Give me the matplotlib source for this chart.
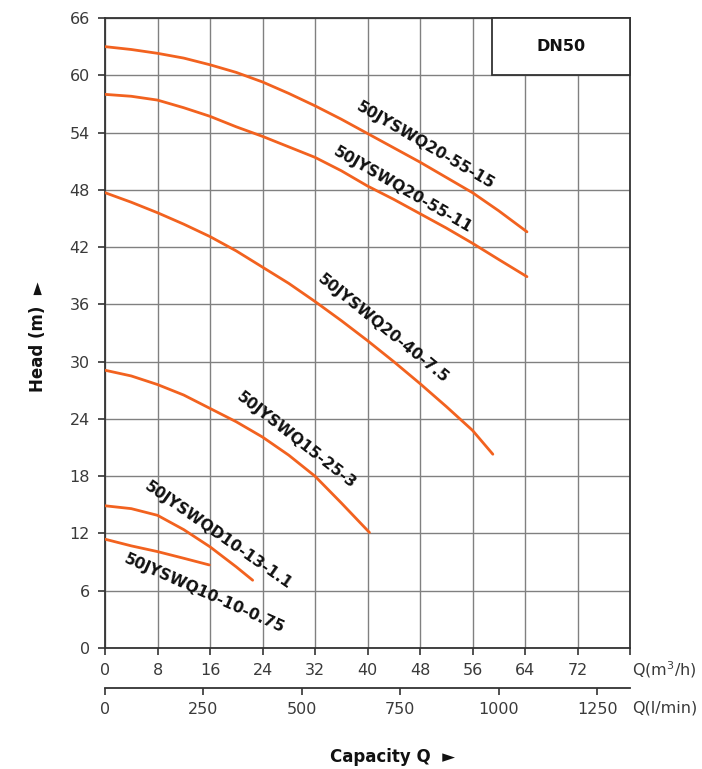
import matplotlib
matplotlib.use("Agg")
import matplotlib.pyplot as plt
from matplotlib.patches import Rectangle

# ---- data (Q in m3/h, H in m) ----
q1 = [0, 4, 8, 12, 16, 20, 24, 28, 32, 36, 40, 44, 48, 52, 56, 60, 64.3]
h1 = [63.0, 62.7, 62.3, 61.8, 61.1, 60.3, 59.3, 58.1, 56.8, 55.4, 53.9, 52.4, 50.9, 49.3, 47.7, 45.8, 43.6]
q2 = [0, 4, 8, 12, 16, 20, 24, 28, 32, 36, 40, 44, 48, 52, 56, 60, 64.3]
h2 = [58.0, 57.8, 57.4, 56.6, 55.7, 54.6, 53.6, 52.5, 51.4, 50.0, 48.4, 47.0, 45.5, 44.0, 42.4, 40.7, 38.9]
q3 = [0, 4, 8, 12, 16, 20, 24, 28, 32, 36, 40, 44, 48, 52, 56, 59.1]
h3 = [47.7, 46.7, 45.6, 44.4, 43.1, 41.6, 39.9, 38.2, 36.3, 34.3, 32.2, 30.0, 27.7, 25.3, 22.8, 20.3]
q4 = [0, 4, 8, 12, 16, 20, 24, 28, 32, 36, 40.3]
h4 = [29.1, 28.5, 27.6, 26.5, 25.1, 23.7, 22.1, 20.2, 18.0, 15.2, 12.1]
q5 = [0, 4, 8, 12, 16, 20, 22.5]
h5 = [14.9, 14.6, 13.9, 12.4, 10.6, 8.5, 7.1]
q6 = [0, 4, 8, 12, 15.9]
h6 = [11.4, 10.7, 10.1, 9.4, 8.7]

curve_q = [q1, q2, q3, q4, q5, q6]
curve_h = [h1, h2, h3, h4, h5, h6]
labels = ["50JYSWQ20-55-15", "50JYSWQ20-55-11", "50JYSWQ20-40-7.5",
          "50JYSWQ15-25-3", "50JYSWQD10-13-1.1", "50JYSWQ10-10-0.75"]
label_pos = [(48.8, 52.6), (45.3, 48.0), (42.4, 33.5), (29.1, 21.8), (17.2, 11.8), (15.2, 5.7)]
label_rot = [-30.5, -30, -39, -38, -35, -24]

x_ticks = [0, 8, 16, 24, 32, 40, 48, 56, 64, 72, 80]
x_ticklabels = ["0", "8", "16", "24", "32", "40", "48", "56", "64", "72", ""]
y_ticks = list(range(0, 67, 6))
lpm_ticks = [0, 250, 500, 750, 1000, 1250]

orange = "#F2621F"
dark = "#333333"
gridc = "#808080"

fig = plt.figure(figsize=(7.02, 7.69), dpi=100)
ax = fig.add_axes([105/702, 1-648/769, 525/702, 630/769])
ax.set_xlim(0, 80)
ax.set_ylim(0, 66)

ax.set_xticks(x_ticks)
ax.set_xticklabels(x_ticklabels)
ax.set_yticks(y_ticks)
ax.grid(True, color=gridc, lw=1.0, zorder=0)
ax.set_axisbelow(True)
for s in ax.spines.values():
    s.set_color(dark)
    s.set_linewidth(1.3)
ax.tick_params(axis='both', colors=dark, labelcolor="#3a3a3a", labelsize=11.5,
               length=5, width=1.2, pad=6)

for q, h in zip(curve_q, curve_h):
    ax.plot(q, h, color=orange, lw=2.0, zorder=3, solid_capstyle='round')

for lab, (x, y), r in zip(labels, label_pos, label_rot):
    ax.text(x, y, lab, rotation=r, ha='center', va='center', fontsize=11.2,
            fontweight='bold', color='#111111', zorder=4, rotation_mode='anchor')

ax.add_patch(Rectangle((59, 60), 21, 6, facecolor='white', edgecolor=dark,
                       lw=1.3, zorder=5, clip_on=False))
ax.text(69.5, 63, "DN50", ha='center', va='center', fontsize=11.5,
        fontweight='bold', color='#111111', zorder=6)

# secondary axis in l/min
sec = ax.secondary_xaxis(-40/630, functions=(lambda v: v * 1000 / 60, lambda v: v * 60 / 1000))
sec.set_xticks(lpm_ticks)
sec.spines['bottom'].set_color(dark)
sec.spines['bottom'].set_linewidth(1.3)
sec.tick_params(colors=dark, labelcolor="#3a3a3a", labelsize=11.5, length=5, width=1.2, pad=5)

fig.text(632/702, 1-670/769, "Q(m$^3$/h)", ha='left', va='center', fontsize=11.5, color="#3a3a3a")
fig.text(632/702, 1-708/769, "Q(l/min)", ha='left', va='center', fontsize=11.5, color="#3a3a3a")

fig.text(38/702, 1-337/769, "Head (m)  \u25BA", rotation=90, ha='center', va='center',
         fontsize=12, fontweight='bold', color='#111111')
fig.text(393/702, 1-757/769, "Capacity Q  \u25BA", ha='center', va='center',
         fontsize=12, fontweight='bold', color='#111111')

fig.savefig("out.png", dpi=100)
